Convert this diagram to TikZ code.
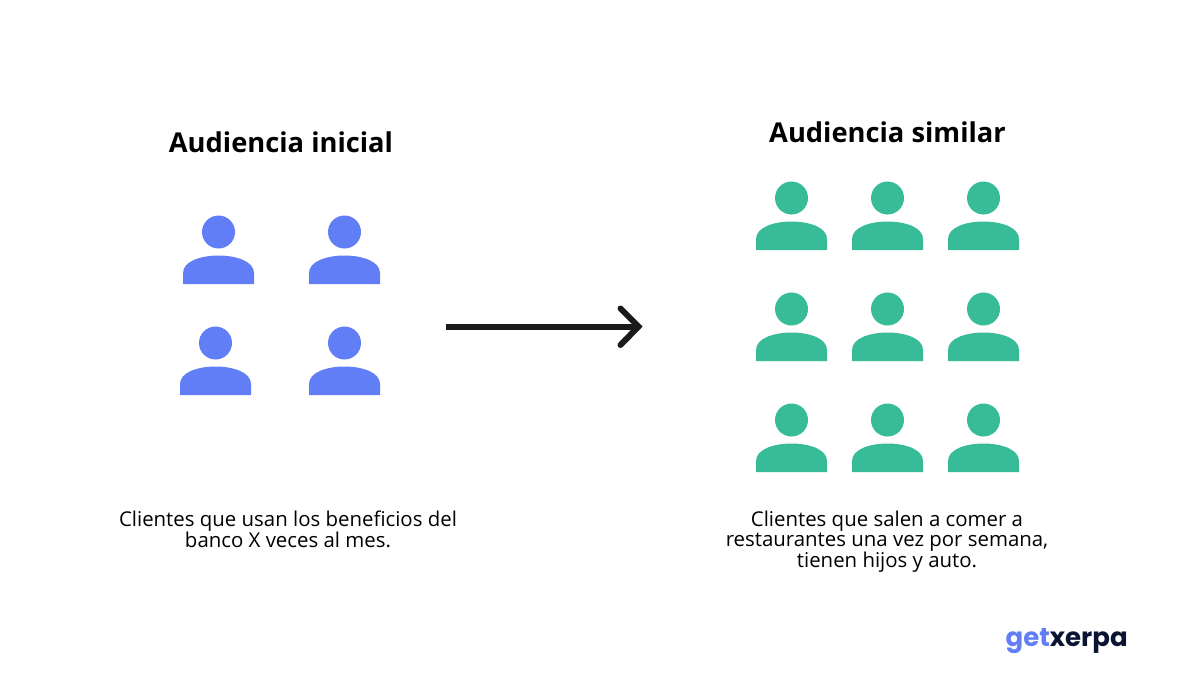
\documentclass[tikz,border=0pt]{standalone}
\usepackage{fontspec}
\setmainfont{Open Sans}
\newfontfamily\logofont{Poppins}
\definecolor{bluep}{HTML}{627EF6}
\definecolor{greenp}{HTML}{38BC98}
\definecolor{inkdark}{HTML}{1A1A1A}
\definecolor{logonavy}{HTML}{0B1533}
\tikzset{
  person/.pic={
    \fill (0,0) circle (16.5);
    \fill (-35.5,52) -- (-35.5,41) .. controls (-35.5,29) and (-17,23.5) .. (0,23.5)
      .. controls (17,23.5) and (35.5,29) .. (35.5,41) -- (35.5,52) -- cycle;
  },
  titletext/.style={font=\fontsize{27.3}{32}\selectfont\bfseries,text=black,inner sep=0pt,anchor=center},
  bodytext/.style={font=\fontsize{20.4}{20.8}\selectfont,text=black,inner sep=0pt,align=center,anchor=center},
  arrowline/.style={draw=inkdark,line width=6pt,line cap=round,line join=miter},
  shaftline/.style={draw=inkdark,line width=6pt,line cap=butt}
}
\begin{document}
\begin{tikzpicture}[x=1pt,y=-1pt]
\useasboundingbox (0,0) rectangle (1196,688);
\fill[white] (0,0) rectangle (1196,688);
\node[titletext] (t1) at (281,142) {Audiencia inicial};
\node[titletext] (t2) at (887.5,132) {Audiencia similar};
\foreach \n/\x/\y in {a/218.5/232,b/344.5/232,c/215.5/343,d/344.5/343}
  \pic[bluep] (\n) at (\x,\y) {person};
\foreach \n/\x in {1/791.5,2/887.5,3/983.5}
  \foreach \m/\y in {a/198,b/309,c/420}
    \pic[greenp] (g\n\m) at (\x,\y) {person};
\coordinate (as) at (446,326.5);
\coordinate (ae) at (638.5,326.5);
\coordinate (h1) at (620.5,308.5);
\coordinate (h2) at (620.5,345);
\draw[shaftline] (as) -- (ae);
\draw[arrowline] (h1) -- (ae) -- (h2);
\node[bodytext] (d1) at (288,529.5) {Clientes que usan los beneficios del\\banco X veces al mes.};
\node[bodytext] (d2) at (887,541.5) {Clientes que salen a comer a\\restaurantes una vez por semana,\\tienen hijos y auto.};
\node[inner sep=0pt,anchor=base west,font=\logofont\fontsize{26}{28}\selectfont\bfseries] (logo) at (1005.5,646) {\textcolor{bluep}{get}\textcolor{logonavy}{xerpa}};
\end{tikzpicture}
\end{document}
